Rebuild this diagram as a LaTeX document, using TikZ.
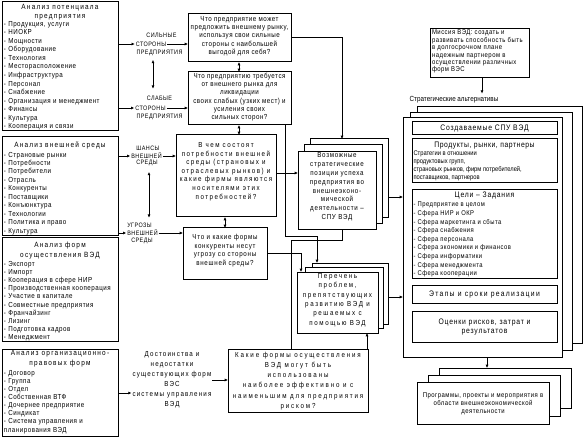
\documentclass[tikz,border=0pt]{standalone}
\usepackage{fontspec}
\setmainfont{Liberation Sans}
\newfontfamily\fama[LetterSpace=7,FakeStretch=0.85]{Liberation Sans}
\newfontfamily\famb[LetterSpace=10,FakeStretch=0.85]{Liberation Sans}
\newfontfamily\famc[LetterSpace=16,FakeStretch=0.85]{Liberation Sans}
\newfontfamily\famd[FakeStretch=0.85]{Liberation Sans}
\newfontfamily\fame[LetterSpace=25,FakeStretch=0.85]{Liberation Sans}
\newfontfamily\famf[LetterSpace=20,FakeStretch=0.85]{Liberation Sans}
\newfontfamily\famg[LetterSpace=22,FakeStretch=0.85]{Liberation Sans}
\newcommand{\setfnt}[3]{#1\fontsize{#2}{#3}\selectfont}
\usetikzlibrary{arrows.meta}
\begin{document}
\begin{tikzpicture}[x=1pt,y=-1pt,
  corners/.style n args={4}{minimum width={#3-#1}, minimum height={#4-#2}, at={({(#1+#3)/2},{(#2+#4)/2})}},
  bx/.style={draw, line width=1pt, inner sep=0pt, outer sep=0pt},
  lay/.style={bx, fill=white},
  txt/.style={inner sep=0pt, outer sep=0pt},
  ln/.style={line width=0.7pt},
  ar/.style={ln, -{Latex[length=3.3pt,width=3pt]}},
  dar/.style={ln, {Latex[length=3.3pt,width=3pt]}-{Latex[length=3.3pt,width=3pt]}},
  capl/.style={txt, font={\setfnt\fama{6.4}{7}}},
]
\useasboundingbox (0,0) rectangle (583,438);

% ---------------- left column ----------------
\node[bx, corners={2}{2}{118}{131}] (L1) {};
\node[txt, font={\setfnt\famc{7.6}{9.3}}, align=center, anchor=north] (L1t) at (60,4.2) {Анализ потенциала\\предприятия};
\node[txt, font={\setfnt\fama{7.3}{8.53}}, align=left, anchor=north west] (L1i) at (4,21.3) {- Продукция, услуги\\- НИОКР\\- Мощности\\- Оборудование\\- Технология\\- Месторасположение\\- Инфраструктура\\- Персонал\\- Снабжение\\- Организация и менеджмент\\- Финансы\\- Культура\\- Кооперация и связи};

\node[bx, corners={2}{137}{118}{236}] (L2) {};
\node[txt, font={\setfnt\famc{7.6}{9.3}}, anchor=north] (L2t) at (60,142) {Анализ внешней среды};
\node[txt, font={\setfnt\fama{7.3}{8.45}}, align=left, anchor=north west] (L2i) at (4,152) {- Страновые рынки\\- Потребности\\- Потребители\\- Отрасль\\- Конкуренты\\- Поставщики\\- Конъюнктура\\- Технологии\\- Политика и право\\- Культура};

\node[bx, corners={2}{238}{118}{341}] (L3) {};
\node[txt, font={\setfnt\famc{7.6}{9.8}}, align=center, anchor=north] (L3t) at (60,242) {Анализ форм\\осуществления ВЭД};
\node[txt, font={\setfnt\fama{7.3}{8.2}}, align=left, anchor=north west] (L3i) at (4,261) {- Экспорт\\- Импорт\\- Кооперация в сфере НИР\\- Производственная кооперация\\- Участие в капитале\\- Совместные предприятия\\- Франчайзинг\\- Лизинг\\- Подготовка кадров\\- Менеджмент};

\node[bx, corners={2}{349}{118}{436}] (L4) {};
\node[txt, font={\setfnt\famc{7.6}{9.8}}, align=center, anchor=north] (L4t) at (60,350.4) {Анализ организационно-\\правовых форм};
\node[txt, font={\setfnt\fama{7.3}{8.15}}, align=left, anchor=north west] (L4i) at (4,370) {- Договор\\- Группа\\- Отдел\\- Собственная ВТФ\\- Дочернее предприятие\\- Синдикат\\- Система управления и\\планирования ВЭД};

% ---------------- caps labels ----------------
\node[capl] (s1) at (161.5,35) {СИЛЬНЫЕ};
\node[capl, inner sep=1pt] (s2) at (151,44) {СТОРОНЫ};
\node[capl] (s3) at (159.5,53) {ПРЕДПРИЯТИЯ};
\node[capl] (w1) at (159.5,98) {СЛАБЫЕ};
\node[capl, inner sep=1pt] (w2) at (150.5,108) {СТОРОНЫ};
\node[capl] (w3) at (159.5,117) {ПРЕДПРИЯТИЯ};
\node[capl] (h1) at (148,148) {ШАНСЫ};
\node[capl, inner sep=1pt] (h2) at (146.5,156) {ВНЕШНЕЙ};
\node[capl] (h3) at (147,163) {СРЕДЫ};
\node[capl] (u1) at (139.5,225) {УГРОЗЫ};
\node[capl, inner sep=1pt] (u2) at (142.5,233) {ВНЕШНЕЙ};
\node[capl] (u3) at (142,241) {СРЕДЫ};
\node[txt, font={\setfnt\famc{7.3}{10}}, align=center, inner sep=1pt] (D) at (172,380) {Достоинства и\\недостатки\\существующих форм\\ВЭС\\системы управления\\ВЭД};

% ---------------- question boxes ----------------
\node[bx, corners={188}{14}{291}{62}] (Q1) {};
\node[txt, font={\setfnt\fama{7.3}{8.25}}, align=center] (Q1t) at (239.5,36) {Что предприятие может\\предложить внешнему рынку,\\используя свои сильные\\стороны с наибольшей\\выгодой для себя?};
\node[bx, corners={188}{72}{291}{125}] (Q2) {};
\node[txt, font={\setfnt\fama{7.3}{8.2}}, align=center] (Q2t) at (239.5,97) {Что предприятию требуется\\от внешнего рынка для\\ликвидации\\своих слабых (узких мест) и\\усиления своих\\сильных сторон?};
\node[bx, corners={176}{135}{276}{217}] (Q3) {};
\node[txt, font={\setfnt\famf{7.3}{8.6}}, align=center] (Q3t) at (226,171.5) {В чем состоят\\потребности внешней\\среды (страновых и\\отраслевых рынков) и\\какие фирмы являются\\носителями этих\\потребностей?};
\node[bx, corners={183}{228}{267}{279}] (Q4) {};
\node[txt, font={\setfnt\famb{7.3}{8.7}}, align=center] (Q4t) at (225,250.5) {Что и какие формы\\конкуренты несут\\угрозу со стороны\\внешней среды?};
\node[bx, corners={228}{349}{368}{412}] (Q5) {};
\node[txt, font={\setfnt\fame{7.3}{10.2}}, align=center] (Q5t) at (298,381) {Какие формы осуществления\\ВЭД могут быть\\использованы\\наиболее эффективно и с\\наименьшим для предприятия\\риском?};

% ---------------- stacks ----------------
\node[lay, corners={310}{139}{388}{218}] (Vb) {};
\node[lay, corners={304}{145}{382}{224}] (Vm) {};
\node[lay, corners={298}{152}{376}{230}] (V) {};
\node[txt, font={\setfnt\famb{7.3}{8.8}}, align=center] (Vt) at (337,187) {Возможные\\стратегические\\позиции успеха\\предприятия во\\внешнеэконо-\\мической\\деятельности –\\СПУ ВЭД};

\node[lay, corners={312}{263}{388}{324}] (Pb) {};
\node[lay, corners={305}{267}{383}{328}] (Pm) {};
\node[lay, corners={297}{272}{378}{333}] (P) {};
\node[txt, font={\setfnt\famg{7.3}{9.4}}, align=center] (Pt) at (337.5,300) {Перечень\\проблем,\\препятствующих\\развитию ВЭД и\\решаемых с\\помощью ВЭД};

\node[bx, corners={430}{29}{529}{78}] (M) {};
\node[txt, font={\setfnt\fama{7}{7.4}}, align=left, anchor=north west] (Mt) at (432,30) {Миссия ВЭД: создать и\\развивать способность быть\\в долгосрочном плане\\надежным партнером в\\осуществлении различных\\форм ВЭС};
\node[txt, font={\setfnt\famd{7.4}{8}}] (SA) at (454,100) {Стратегические альтернативы};

\node[lay, corners={417}{107}{582}{343}] (Sb) {};
\node[lay, corners={410}{113}{572}{350}] (Sm) {};
\node[lay, corners={403}{118}{562}{357}] (S) {};
\node[bx, corners={412}{122}{557}{135}] (C1) {};
\node[txt, font={\setfnt\famb{8}{8}}] (C1t) at (484.5,128.7) {Создаваемые СПУ ВЭД};
\node[bx, corners={412}{139}{557}{183}] (C2) {};
\node[txt, font={\setfnt\fama{8}{8}}] (C2t) at (484.5,145.3) {Продукты, рынки, партнеры};
\node[txt, font={\setfnt\famd{6.8}{8.3}}, align=left, anchor=north west] (C2i) at (413.5,150.3) {Стратегии в отношении\\продуктовых групп,\\страновых рынков, фирм потребителей,\\поставщиков, партнеров};
\node[bx, corners={412}{190}{557}{278}] (C3) {};
\node[txt, font={\setfnt\famb{8}{8}}] (C3t) at (484.5,195.5) {Цели – Задания};
\node[txt, font={\setfnt\fama{6.9}{8.6}}, align=left, anchor=north west] (C3i) at (413.5,202.2) {- Предприятие в целом\\- Сфера НИР и ОКР\\- Сфера маркетинга и сбыта\\- Сфера снабжения\\- Сфера персонала\\- Сфера экономики и финансов\\- Сфера информатики\\- Сфера менеджмента\\- Сфера кооперации};
\node[bx, corners={412}{285}{557}{303}] (C4) {};
\node[txt, font={\setfnt\famc{8}{8}}] (C4t) at (484.5,294.3) {Этапы и сроки реализации};
\node[bx, corners={412}{311}{557}{342}] (C5) {};
\node[txt, font={\setfnt\famb{8}{9.3}}, align=center] (C5t) at (484.5,327) {Оценки рисков, затрат и\\результатов};

\node[lay, corners={439}{368}{571}{408}] (Rb) {};
\node[lay, corners={428}{375}{560}{416}] (Rm) {};
\node[lay, corners={417}{382}{549}{424}] (R) {};
\node[txt, font={\setfnt\fama{7}{8.2}}, align=center] (Rt) at (483,404) {Программы, проекты и мероприятия в\\области внешнеэкономической\\деятельности};

% ---------------- connectors ----------------
\draw[ar] (L1.east |- s2) -- (s2.west);
\draw[ar] (s2.east) -- (Q1.west |- s2);
\draw[ar] (L1.east |- w2) -- (w2.west);
\draw[ar] (w2.east) -- (Q2.west |- w2);
\draw[dar, shorten <=4pt, shorten >=7pt] (s3.south -| 153,0) -- (w1.north -| 153,0);

\draw[ar] (L2.east |- h2) -- (h2.west);
\draw[ar] (h2.east) -- (Q3.west |- h2);
\draw[ar] (L2.east |- u2) -- (u2.west);
\draw[ar] (u2.east) -- (Q4.west |- u2);
\draw[dar, shorten <=6pt, shorten >=5pt] (h3.south -| 149,0) -- (u1.north -| 149,0);

\draw[ar] (L4.east |- 0,393) -- (D.west |- 0,393);
\draw[ar] (D.east |- 0,380) -- (Q5.west |- 0,380);

\draw[dar] (Q1.south -| 239,0) -- (Q2.north -| 239,0);
\draw[dar] (Q2.south -| 239,0) -- (Q3.north -| 239,0);
\draw[dar] (Q3.south -| 225,0) -- (Q4.north -| 225,0);

\draw[ar] (Q1.east |- 0,37) -| ([xshift=-7pt]Vb.north);
\draw[ar] (Q3.east |- 0,173) -- (V.west |- 0,173);
\draw[ar] ([xshift=-6pt]Q2.south east) -- ++(0,111) -| ([xshift=-33pt]Pb.north);
\draw[ln] ([xshift=5pt]V.south) -- ++(0,10) -| (Q5.north -| 291,0);
\draw[ar] (Q4.east |- 0,253) -| ([xshift=4pt]P.north west);
\draw[ar] (Q5.north -| 367,0) -- (P.south -| 367,0);

\draw[ar] (Vb.east |- 0,197) -- (S.west |- 0,197);
\draw[ar] (Pb.east |- 0,297) -- (S.west |- 0,297);
\draw[ar, shorten >=3pt] (M.south -| 482,0) -- (SA.north -| 482,0);
\draw[ar] (S.south -| 487,0) -- (Rb.north -| 487,0);
\end{tikzpicture}
\end{document}
